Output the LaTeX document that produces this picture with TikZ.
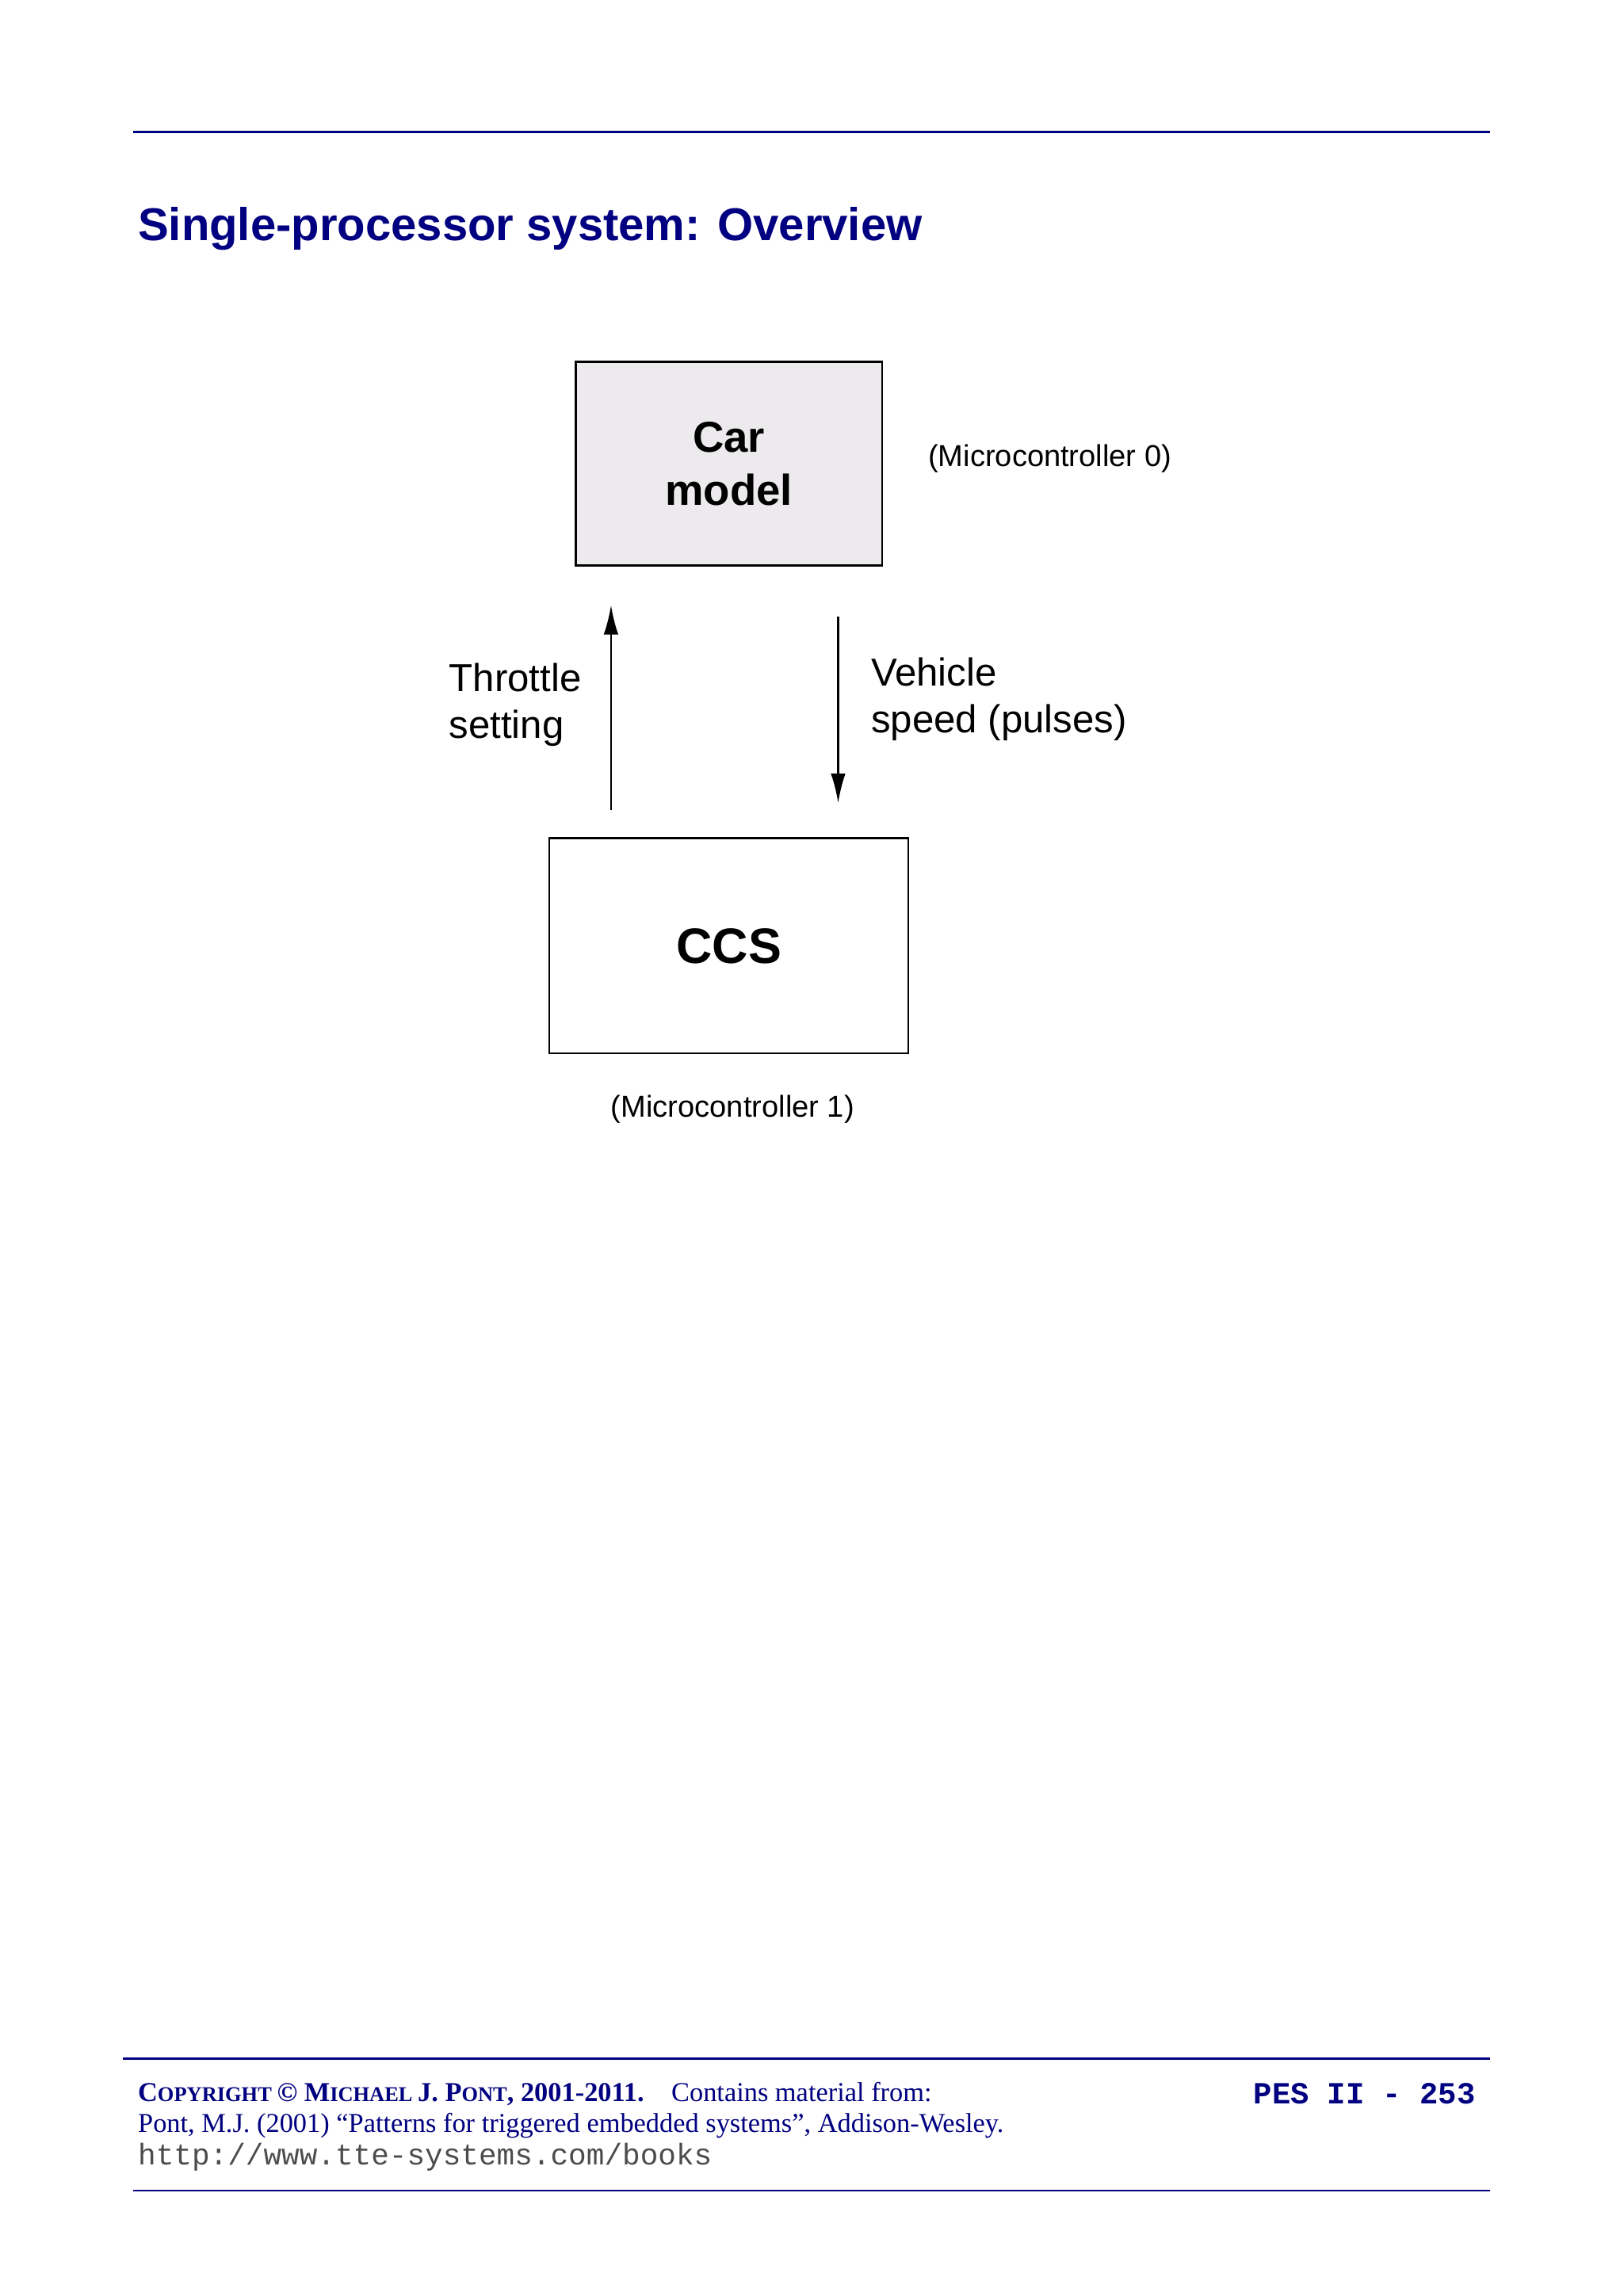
\documentclass[tikz,border=0pt]{standalone}
\usepackage{fontspec}
\setmainfont{Liberation Sans}
\newfontfamily\footserif{Liberation Serif}
\newfontfamily\footmono{Liberation Mono}
\usetikzlibrary{arrows.meta, positioning}
\definecolor{navy}{RGB}{0,0,128}
\definecolor{boxgray}{RGB}{236,234,236}
\tikzstyle{unit} = [rectangle, draw = black, line width = 1.3pt, align = center, font = \fontsize{29.5}{36}\selectfont\bfseries]
\tikzstyle{label} = [align = left, anchor = west, font = \fontsize{26.6}{32}\selectfont]
\tikzstyle{small} = [font = \fontsize{20.6}{24}\selectfont]
\tikzstyle{arrow} = [line width = 1.3pt, -{Latex[length = 20pt, width = 10pt]}]

\begin{document}
\begin{tikzpicture}[x = 1pt, y = -1pt]
\useasboundingbox (0, 0) rectangle (1108, 1567);

%RULES
\draw [navy, line width = 1.2pt] (91, 90) -- (1017, 90);
\draw [navy, line width = 1.2pt] (84, 1405) -- (1017, 1405);
\draw [navy, line width = 1.2pt] (91, 1495) -- (1017, 1495);

%TITLE
\node (title) [anchor = west, inner sep = 0, text = navy, font = \fontsize{31.4}{38}\selectfont\bfseries] at (94, 156) {Single-processor system: Overview};

%NODES
\node (car) [unit, fill = boxgray, minimum width = 209pt, minimum height = 139pt] at (497.5, 316.5) {Car\\model};
\node (ccs) [unit, minimum width = 245pt, minimum height = 147pt, font = \fontsize{34}{40}\selectfont\bfseries] at (497.5, 645.5) {CCS};
\node (mc0) [small, anchor = west] at (630, 313) {(Microcontroller 0)};
\node (mc1) [small] at (500, 757) {(Microcontroller 1)};
\node (throttle) [label] at (303, 481) {Throttle\\setting};
\node (speed) [label] at (591, 477) {Vehicle\\speed (pulses)};

%ARROWS
\coordinate (upstart) at (417, 553);
\coordinate (upend) at (417, 413);
\coordinate (downstart) at (572, 421);
\coordinate (downend) at (572, 548);
\draw [arrow] (upstart) -- (upend);
\draw [arrow] (downstart) -- (downend);

%FOOTER
\node (copy) [anchor = west, inner sep = 0, text = navy, font = \fontsize{18.6}{22}\footserif] at (94, 1429) {\textbf{C\fontsize{14.3}{17}\selectfont OPYRIGHT \fontsize{18.6}{22}\selectfont© M\fontsize{14.3}{17}\selectfont ICHAEL \fontsize{18.6}{22}\selectfont J. P\fontsize{14.3}{17}\selectfont ONT\fontsize{18.6}{22}\selectfont, 2001-2011.}\quad Contains material from:};
\node (ref) [anchor = west, inner sep = 0, text = navy, font = \fontsize{18.6}{22}\footserif] at (94, 1451) {Pont, M.J. (2001) “Patterns for triggered embedded systems”, Addison-Wesley.};
\node (url) [anchor = west, inner sep = 0, text = black!70, font = \fontsize{20.4}{24}\footmono] at (94, 1472) {http://www.tte-systems.com/books};
\node (page) [anchor = east, inner sep = 0, text = navy, font = \fontsize{21}{24}\footmono\bfseries] at (1007, 1429) {PES II - 253};

\end{tikzpicture}
\end{document}
